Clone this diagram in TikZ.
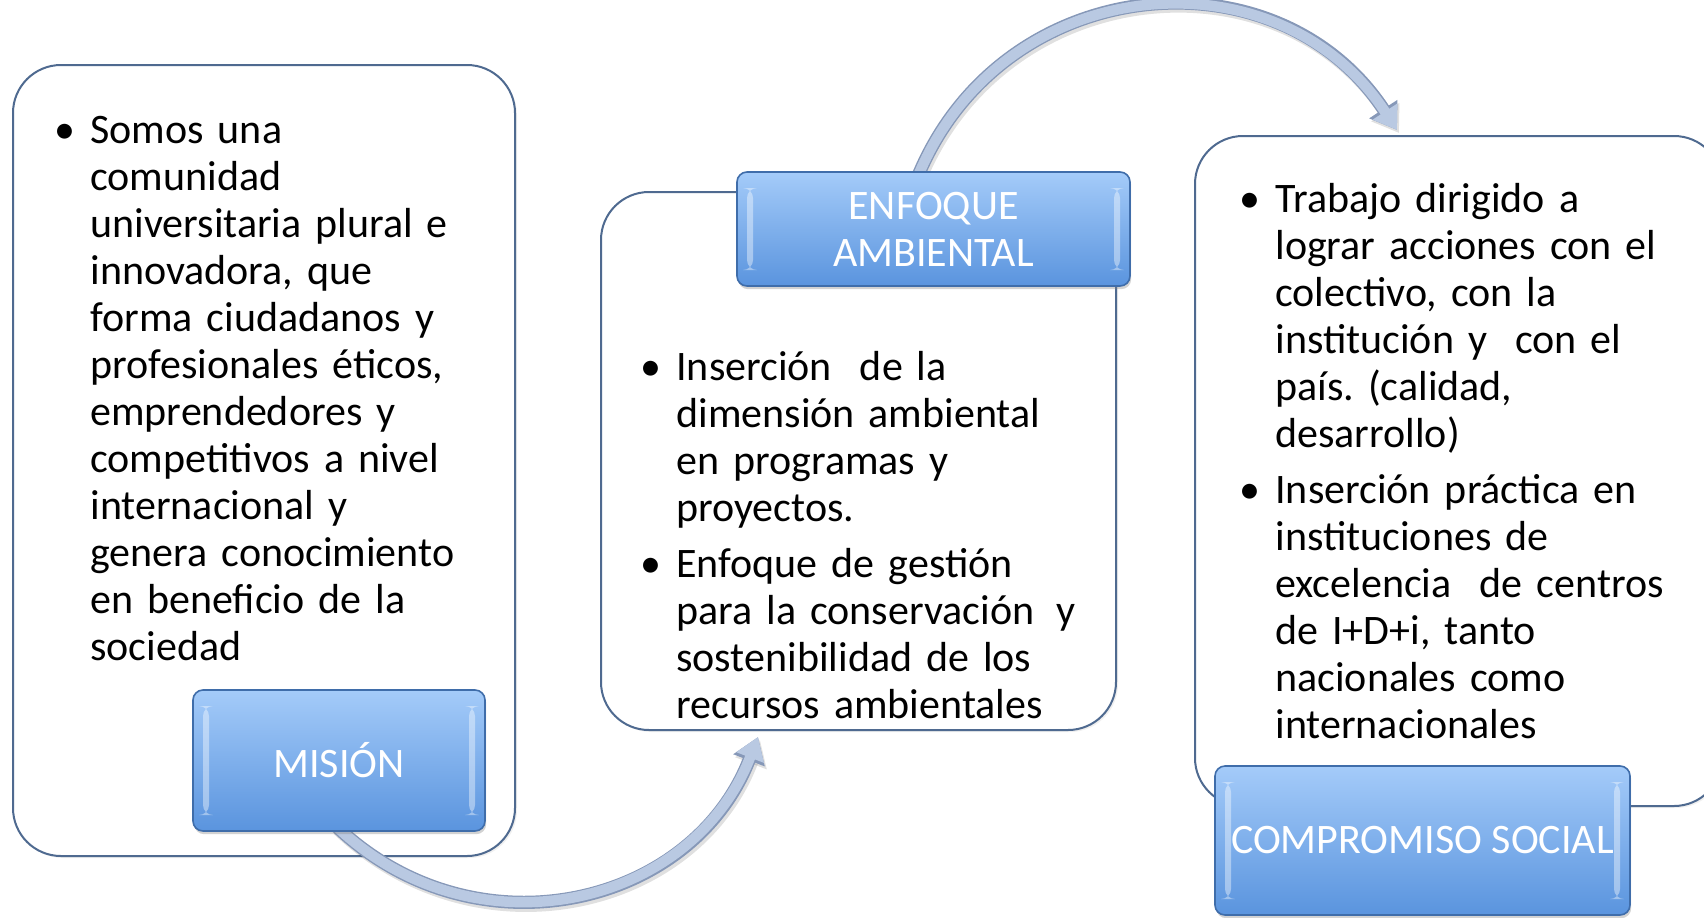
\documentclass[tikz,border=0pt]{standalone}
\usepackage{fontspec}
\setmainfont{Carlito}
\usetikzlibrary{arrows.meta,shadows,calc}
\definecolor{boxline}{HTML}{4F6A90}
\definecolor{lbltop}{HTML}{A4CBF9}
\definecolor{lblbot}{HTML}{5A94DE}
\definecolor{lblline}{HTML}{3F6DAA}
\definecolor{arrfill}{HTML}{B9C9E2}
\definecolor{arrline}{HTML}{8698B8}
\newcommand{\bpar}{\hangindent=18pt\hangafter=1\noindent\makebox[18pt][l]{\textbullet}}
\frenchspacing
\begin{document}
\begin{tikzpicture}[x=0.5pt,y=-0.5pt,
  textbox/.style={draw=boxline, line width=1pt, fill=white, rounded corners=24pt, inner sep=0pt,
    drop shadow={opacity=0.12, shadow xshift=1pt, shadow yshift=-1pt}},
  label/.style={draw=lblline, line width=0.8pt, rounded corners=5pt, top color=lbltop, bottom color=lblbot,
    text=white, align=center, inner sep=0pt, font=\fontsize{21}{23.5}\selectfont,
    drop shadow={opacity=0.35, shadow xshift=0.6pt, shadow yshift=-1.6pt},
    path picture={
      \fill[white,opacity=0.4] ([xshift=5pt,yshift=-8pt]path picture bounding box.north west) rectangle ([xshift=8pt,yshift=8pt]path picture bounding box.south west);
      \fill[white,opacity=0.4] ([xshift=-8pt,yshift=-8pt]path picture bounding box.north east) rectangle ([xshift=-5pt,yshift=8pt]path picture bounding box.south east);
    }},
  bodytext/.style={anchor=base west, inner sep=0pt, text width=250pt, font=\fontsize{21}{23.5}\selectfont},
  arrowout/.style={draw=arrline, line width=6.6pt, -{Triangle[length=12.5pt,width=16pt]}},
  arrowin/.style={draw=arrfill, line width=5.2pt, -{Triangle[length=11pt,width=14pt]}},
  arrowshade/.style={draw=black, opacity=0.12, line width=6.6pt, -{Triangle[length=12.5pt,width=16pt]}},
]
\useasboundingbox (0,0) rectangle (1704,917);

% text boxes
\node[textbox, minimum width=251pt, minimum height=395.5pt] (mbox) at (264,460.5) {};
\node[textbox, minimum width=257.5pt, minimum height=269pt] (ebox) at (858.5,461) {};
\node[textbox, minimum width=263.5pt, minimum height=335pt] (cbox) at (1458.5,471) {};

% texts
\node[bodytext] (mtext) at (54,143) {\raggedright
\bpar Somos una\newline comunidad\newline universitaria plural e\newline innovadora, que\newline forma ciudadanos y\newline profesionales éticos,\newline emprendedores y\newline competitivos a nivel\newline internacional y\newline genera conocimiento\newline en beneficio de la\newline sociedad\par};

\node[bodytext] (etext) at (640,380) {\raggedright
\bpar Inserción\ \ de la\newline dimensión ambiental\newline en programas y\newline proyectos.\par
\vspace{4.5pt}
\bpar Enfoque de gestión\newline para la conservación\hspace{11pt}y\newline sostenibilidad de los\newline recursos ambientales\par};

\node[bodytext] (ctext) at (1239,212) {\raggedright
\bpar Trabajo dirigido a\newline lograr acciones con el\newline colectivo, con la\newline institución y\ \ con el\newline país. (calidad,\newline desarrollo)\par
\vspace{4.5pt}
\bpar Inserción práctica en\newline instituciones de\newline excelencia\ \ de centros\newline de I+D+i, tanto\newline nacionales como\newline internacionales\par};

% arrow end points
\coordinate (tip1) at (758,737);
\coordinate (tip2) at (1397,130);
\coordinate (start1) at (336,826);
\coordinate (start2) at (918,176);

% arrows
\begin{scope}[transform canvas={shift={(1pt,-1.5pt)}}]
\draw[arrowshade] (start1) .. controls (474,958) and (692,908) .. (tip1);
\draw[arrowshade] (start2) .. controls (1003,-29) and (1277,-53) .. (tip2);
\end{scope}
\draw[arrowout] (start1) .. controls (474,958) and (692,908) .. (tip1);
\draw[arrowin] (start1) .. controls (474,958) and (692,908) .. (tip1);
\draw[arrowout] (start2) .. controls (1003,-29) and (1277,-53) .. (tip2);
\draw[arrowin] (start2) .. controls (1003,-29) and (1277,-53) .. (tip2);

% labels
\node[label, minimum width=146pt, minimum height=70.5pt] (mision) at (339,760.5) {MISIÓN};
\node[label, minimum width=196.5pt, minimum height=57pt] (enfoque) at (933.5,229) {ENFOQUE\\AMBIENTAL};
\node[label, minimum width=207.5pt, minimum height=74.5pt] (compromiso) at (1422.5,840.5) {COMPROMISO SOCIAL};
\end{tikzpicture}
\end{document}
